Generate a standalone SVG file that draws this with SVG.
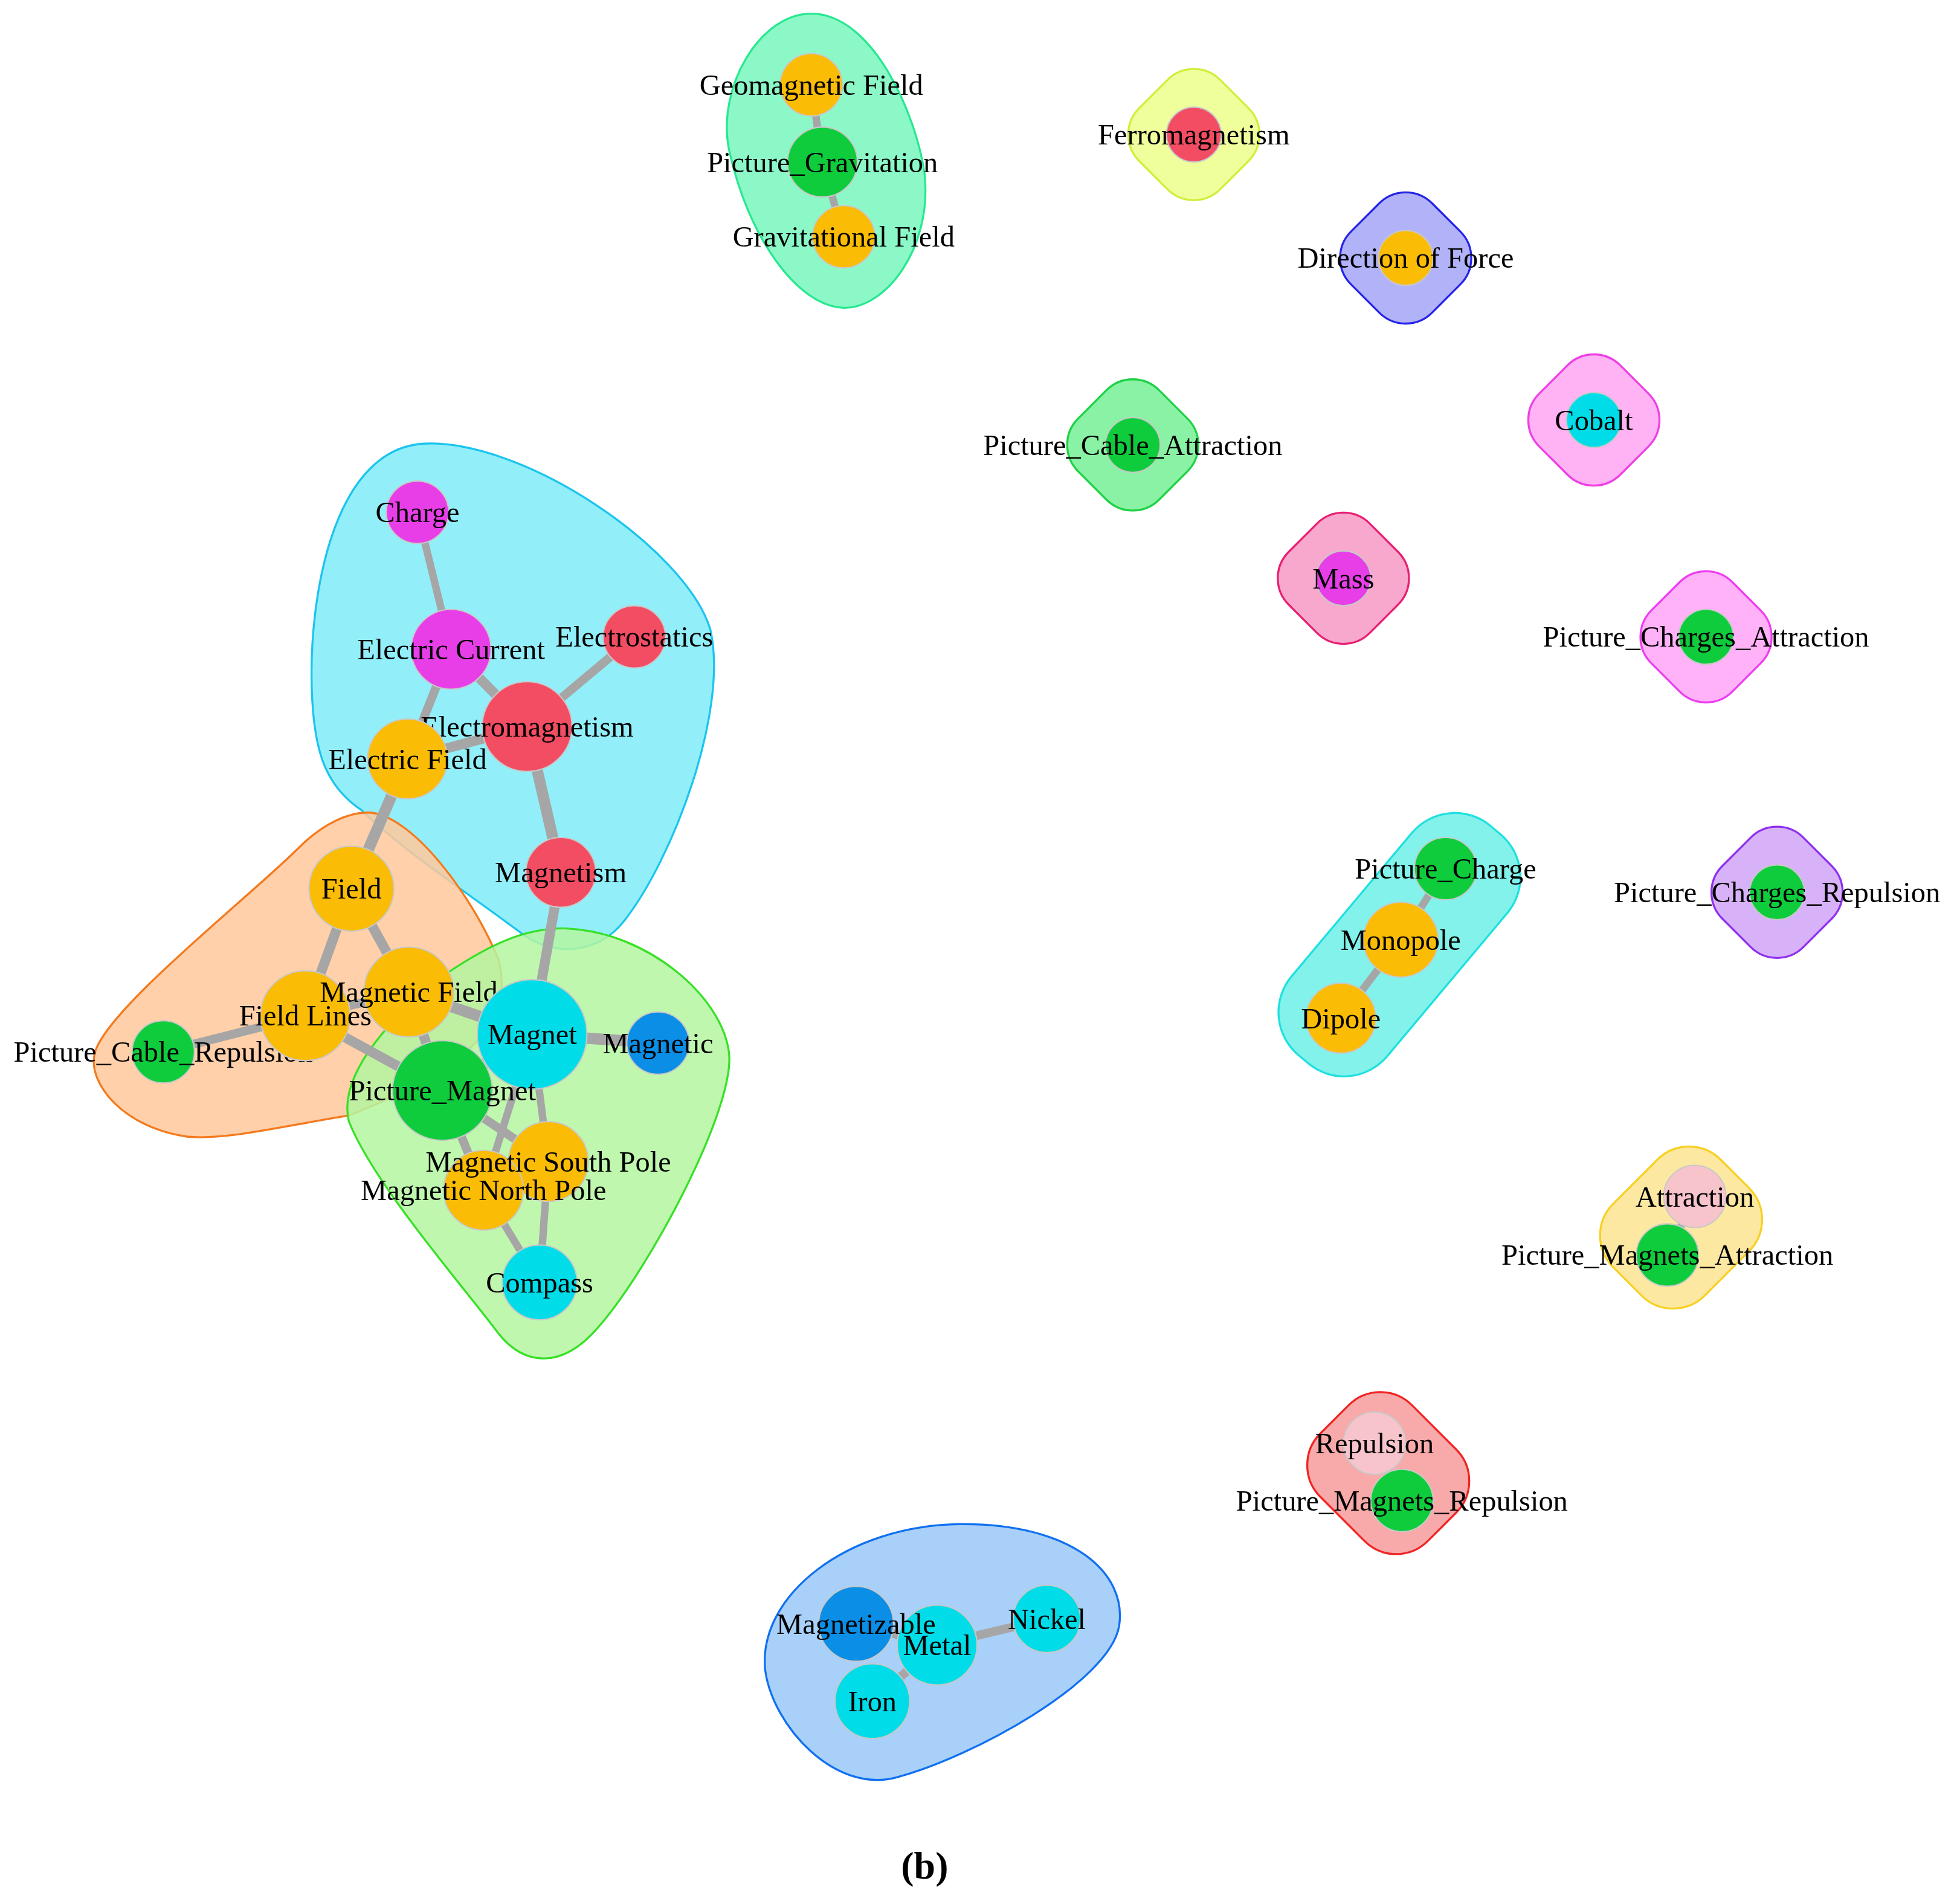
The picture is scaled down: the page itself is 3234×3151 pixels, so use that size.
<svg xmlns="http://www.w3.org/2000/svg" width="3234" height="3151" viewBox="0 0 3234 3151">
<style>
text{font-family:"Liberation Serif","Times New Roman",serif;font-size:23.5px;fill:#000;text-anchor:middle;dominant-baseline:central}
.hull{stroke-width:1.6}
.e{stroke:#a6a6a6;fill:none}
.n{stroke:#c8c8c8;stroke-width:1}
.or{fill:#fbbc05}.gr{fill:#0fcc3c}.cy{fill:#00dce8}.rd{fill:#f24d63}.mg{fill:#e83ee8}.bl{fill:#0a8ee6}.pk{fill:#f8c4cc}
</style>
<rect width="3234" height="3151" fill="#fff"/>
<g transform="scale(2.0625)">
<g id="hulls">
<path class="hull" fill="#8cf8c8" stroke="#28e890" d="M652,11 C700,12 735,90 742,140 C748,200 710,248 677,247 C640,246 600,190 585,120 C575,70 610,10 652,11 Z"/>
<rect class="hull" fill="#eeff9c" stroke="#d2ee3a" x="912" y="62" width="92" height="92" rx="30" transform="rotate(45 958 108)"/>
<rect class="hull" fill="#b2b2f8" stroke="#2424e8" x="1082" y="161" width="92" height="92" rx="30" transform="rotate(45 1128 207)"/>
<rect class="hull" fill="#8af2a4" stroke="#1ed246" x="863" y="311" width="92" height="92" rx="30" transform="rotate(45 909 357)"/>
<rect class="hull" fill="#ffb2f4" stroke="#f03ee4" x="1233" y="291" width="92" height="92" rx="30" transform="rotate(45 1279 337)"/>
<rect class="hull" fill="#f8a8cc" stroke="#e82072" x="1032" y="418" width="92" height="92" rx="30" transform="rotate(45 1078 464)"/>
<rect class="hull" fill="#ffb2f8" stroke="#ee3cf0" x="1323" y="465" width="92" height="92" rx="30" transform="rotate(45 1369 511)"/>
<rect class="hull" fill="#d8b2f8" stroke="#8e30ee" x="1380" y="670" width="92" height="92" rx="30" transform="rotate(45 1426 716)"/>
<rect class="hull" fill="#82f2ea" stroke="#1ee0e0" x="1003" y="708" width="240" height="100" rx="45" transform="rotate(-50 1123 758)"/>
<rect class="hull" fill="#fde8a2" stroke="#f8d022" x="1288" y="933" width="122" height="104" rx="36" transform="rotate(-45 1349 985)"/>
<rect class="hull" fill="#f8aaaa" stroke="#f02424" x="1053" y="1130" width="122" height="104" rx="36" transform="rotate(45 1114 1182)"/>
<path class="hull" fill="#a8d0f8" stroke="#1070f0" d="M770,1223 C860,1222 905,1262 898,1305 C890,1350 780,1410 720,1426 C670,1440 620,1385 614,1340 C608,1280 680,1224 770,1223 Z"/>
<path class="hull" fill="#8ceefa" fill-opacity="0.95" stroke="#1cc4ee" d="M340,356 C420,352 550,440 570,505 C585,570 540,690 500,740 C480,765 445,768 420,750 C380,720 320,680 290,650 C260,630 250,600 250,540 C250,470 270,360 340,356 Z"/>
<path class="hull" fill="#ffc89a" fill-opacity="0.85" stroke="#f47a1e" d="M295,652 C330,652 380,720 400,770 C410,810 395,850 280,895 C220,905 180,915 150,912 C100,905 70,870 76,845 C85,810 200,720 240,680 C260,660 280,652 295,652 Z"/>
<path class="hull" fill="#b4f6a0" fill-opacity="0.85" stroke="#38e028" d="M455,745 C520,748 580,800 585,845 C590,890 520,1020 480,1065 C450,1100 420,1095 400,1070 C370,1030 300,950 280,900 C270,860 320,810 360,780 C390,760 420,744 455,745 Z"/>
</g>
<g id="connectors">
<line class="e" stroke-width="6" x1="651" y1="68" x2="660" y2="130"/>
<line class="e" stroke-width="6" x1="660" y1="130" x2="677" y2="190"/>
<line class="e" stroke-width="6" x1="1160" y1="697" x2="1124" y2="754"/>
<line class="e" stroke-width="6" x1="1124" y1="754" x2="1076" y2="817"/>
<line class="e" stroke-width="6" x1="1360" y1="960" x2="1338" y2="1007"/>
<line class="e" stroke-width="6" x1="1103" y1="1158" x2="1125" y2="1204"/>
<line class="e" stroke-width="7" x1="687" y1="1303" x2="752" y2="1320"/>
<line class="e" stroke-width="7" x1="752" y1="1320" x2="840" y2="1299"/>
<line class="e" stroke-width="7" x1="752" y1="1320" x2="700" y2="1365"/>
<line class="e" stroke-width="6" x1="335" y1="411" x2="362" y2="521"/>
<line class="e" stroke-width="8" x1="362" y1="521" x2="423" y2="583"/>
<line class="e" stroke-width="7" x1="509" y1="511" x2="423" y2="583"/>
<line class="e" stroke-width="7" x1="362" y1="521" x2="327" y2="609"/>
<line class="e" stroke-width="8" x1="327" y1="609" x2="423" y2="583"/>
<line class="e" stroke-width="9" x1="423" y1="583" x2="450" y2="700"/>
<line class="e" stroke-width="9" x1="327" y1="609" x2="282" y2="713"/>
<line class="e" stroke-width="8" x1="450" y1="700" x2="427" y2="830"/>
<line class="e" stroke-width="8" x1="282" y1="713" x2="328" y2="796"/>
<line class="e" stroke-width="8" x1="282" y1="713" x2="245" y2="815"/>
<line class="e" stroke-width="7" x1="245" y1="815" x2="131" y2="844"/>
<line class="e" stroke-width="8" x1="245" y1="815" x2="355" y2="875"/>
<line class="e" stroke-width="7" x1="245" y1="815" x2="328" y2="796"/>
<line class="e" stroke-width="9" x1="328" y1="796" x2="427" y2="830"/>
<line class="e" stroke-width="8" x1="328" y1="796" x2="355" y2="875"/>
<line class="e" stroke-width="9" x1="427" y1="830" x2="528" y2="837"/>
<line class="e" stroke-width="9" x1="427" y1="830" x2="355" y2="875"/>
<line class="e" stroke-width="6" x1="427" y1="830" x2="440" y2="932"/>
<line class="e" stroke-width="6" x1="427" y1="830" x2="388" y2="955"/>
<line class="e" stroke-width="7" x1="355" y1="875" x2="440" y2="932"/>
<line class="e" stroke-width="7" x1="355" y1="875" x2="388" y2="955"/>
<line class="e" stroke-width="6" x1="440" y1="932" x2="433" y2="1029"/>
<line class="e" stroke-width="6" x1="388" y1="955" x2="433" y2="1029"/>
</g>
<g id="n-geomagnetic"><circle class="n or" cx="651" cy="68" r="25"/><text x="651" y="68">Geomagnetic Field</text></g>
<g id="n-picgrav"><circle class="n gr" cx="660" cy="130" r="28"/><text x="660" y="130">Picture_Gravitation</text></g>
<g id="n-gravfield"><circle class="n or" cx="677" cy="190" r="25"/><text x="677" y="190">Gravitational Field</text></g>
<g id="n-ferro"><circle class="n rd" cx="958" cy="108" r="22"/><text x="958" y="108">Ferromagnetism</text></g>
<g id="n-dirforce"><circle class="n or" cx="1128" cy="207" r="22"/><text x="1128" y="207">Direction of Force</text></g>
<g id="n-piccableattr"><circle class="n gr" cx="909" cy="357" r="22"/><text x="909" y="357">Picture_Cable_Attraction</text></g>
<g id="n-cobalt"><circle class="n cy" cx="1279" cy="337" r="22"/><text x="1279" y="337">Cobalt</text></g>
<g id="n-mass"><circle class="n mg" cx="1078" cy="464" r="22"/><text x="1078" y="464">Mass</text></g>
<g id="n-picchargesattr"><circle class="n gr" cx="1369" cy="511" r="22"/><text x="1369" y="511">Picture_Charges_Attraction</text></g>
<g id="n-picchargesrep"><circle class="n gr" cx="1426" cy="716" r="22"/><text x="1426" y="716">Picture_Charges_Repulsion</text></g>
<g id="n-piccharge"><circle class="n gr" cx="1160" cy="697" r="25"/><text x="1160" y="697">Picture_Charge</text></g>
<g id="n-monopole"><circle class="n or" cx="1124" cy="754" r="30"/><text x="1124" y="754">Monopole</text></g>
<g id="n-dipole"><circle class="n or" cx="1076" cy="817" r="28"/><text x="1076" y="817">Dipole</text></g>
<g id="n-attraction"><circle class="n pk" cx="1360" cy="960" r="25"/><text x="1360" y="960">Attraction</text></g>
<g id="n-picmagattr"><circle class="n gr" cx="1338" cy="1007" r="25"/><text x="1338" y="1007">Picture_Magnets_Attraction</text></g>
<g id="n-repulsion"><circle class="n pk" cx="1103" cy="1158" r="25"/><text x="1103" y="1158">Repulsion</text></g>
<g id="n-picmagrep"><circle class="n gr" cx="1125" cy="1204" r="25"/><text x="1125" y="1204">Picture_Magnets_Repulsion</text></g>
<g id="n-metal"><circle class="n cy" cx="752" cy="1320" r="32"/><text x="752" y="1320">Metal</text></g>
<g id="n-magnetizable"><circle class="n bl" cx="687" cy="1303" r="30"/><text x="687" y="1303">Magnetizable</text></g>
<g id="n-nickel"><circle class="n cy" cx="840" cy="1299" r="27"/><text x="840" y="1299">Nickel</text></g>
<g id="n-iron"><circle class="n cy" cx="700" cy="1365" r="30"/><text x="700" y="1365">Iron</text></g>
<g id="n-charge"><circle class="n mg" cx="335" cy="411" r="25"/><text x="335" y="411">Charge</text></g>
<g id="n-electrostatics"><circle class="n rd" cx="509" cy="511" r="25"/><text x="509" y="511">Electrostatics</text></g>
<g id="n-electriccurrent"><circle class="n mg" cx="362" cy="521" r="32"/><text x="362" y="521">Electric Current</text></g>
<g id="n-electromagnetism"><circle class="n rd" cx="423" cy="583" r="36"/><text x="423" y="583">Electromagnetism</text></g>
<g id="n-electricfield"><circle class="n or" cx="327" cy="609" r="32"/><text x="327" y="609">Electric Field</text></g>
<g id="n-magnetism"><circle class="n rd" cx="450" cy="700" r="28"/><text x="450" y="700">Magnetism</text></g>
<g id="n-field"><circle class="n or" cx="282" cy="713" r="34"/><text x="282" y="713">Field</text></g>
<g id="n-piccablerep"><circle class="n gr" cx="131" cy="844" r="25"/><text x="131" y="844">Picture_Cable_Repulsion</text></g>
<g id="n-fieldlines"><circle class="n or" cx="245" cy="815" r="36"/><text x="245" y="815">Field Lines</text></g>
<g id="n-magneticfield"><circle class="n or" cx="328" cy="796" r="36"/><text x="328" y="796">Magnetic Field</text></g>
<g id="n-magnetic"><circle class="n bl" cx="528" cy="837" r="25"/><text x="528" y="837">Magnetic</text></g>
<g id="n-magnet"><circle class="n cy" cx="427" cy="830" r="44"/><text x="427" y="830">Magnet</text></g>
<g id="n-picmagnet"><circle class="n gr" cx="355" cy="875" r="40"/><text x="355" y="875">Picture_Magnet</text></g>
<g id="n-southpole"><circle class="n or" cx="440" cy="932" r="32"/></g>
<g id="n-northpole"><circle class="n or" cx="388" cy="955" r="32"/><text x="388" y="955">Magnetic North Pole</text></g>
<text x="440" y="932">Magnetic South Pole</text>
<g id="n-compass"><circle class="n cy" cx="433" cy="1029" r="30"/><text x="433" y="1029">Compass</text></g>
<text x="742" y="1497" style="font-weight:bold;font-size:31px">(b)</text>
</g>
</svg>
